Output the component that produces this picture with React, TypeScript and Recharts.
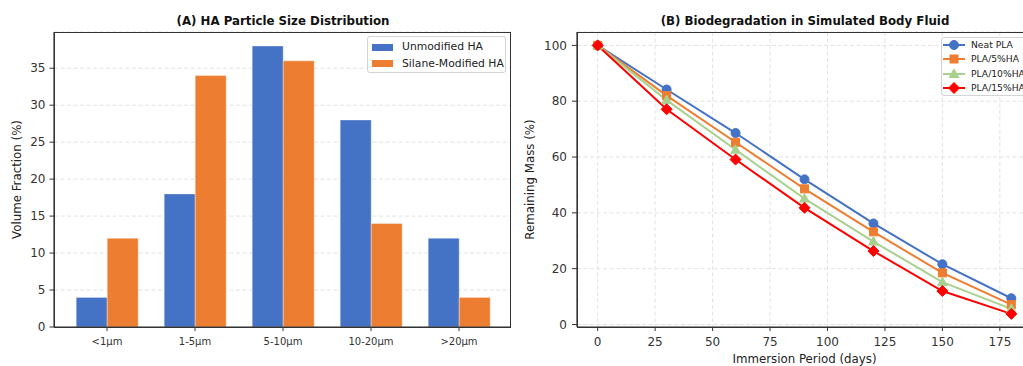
import React from 'react';
import { BarChart, Bar, XAxis, YAxis, CartesianGrid, Legend, LineChart, Line } from 'recharts';

// ---------- Data ----------
const sizeCategories = ['<1μm', '1-5μm', '5-10μm', '10-20μm', '>20μm'];
const unmodifiedHA = [4, 18, 38, 28, 12];
const silaneModifiedHA = [12, 34, 36, 14, 4];
const volumeTicks = [0, 5, 10, 15, 20, 25, 30, 35];

const immersionDays = [0, 30, 60, 90, 120, 150, 180];
const neatPLA = [100, 84.2, 68.6, 52.0, 36.2, 21.6, 9.4];
const pla5HA = [100, 82.0, 65.3, 48.6, 33.2, 18.5, 7.1];
const pla10HA = [100, 80.4, 62.6, 45.1, 29.7, 15.2, 5.6];
const pla15HA = [100, 77.1, 59.1, 41.8, 26.3, 12.0, 3.8];
const dayTicks = [0, 25, 50, 75, 100, 125, 150, 175];
const massTicks = [0, 20, 40, 60, 80, 100];

const FONT = '"DejaVu Sans", sans-serif';
const AXIS = '#333';
const GRID = '#e2e2e2';

const barData = sizeCategories.map((c, i) => ({
  cat: c,
  unmod: unmodifiedHA[i],
  silane: silaneModifiedHA[i],
}));

const lineData = immersionDays.map((d, i) => ({
  day: d,
  neat: neatPLA[i],
  ha5: pla5HA[i],
  ha10: pla10HA[i],
  ha15: pla15HA[i],
}));

const barSeries = [
  { key: 'unmod', name: 'Unmodified HA', color: '#4472C4' },
  { key: 'silane', name: 'Silane-Modified HA', color: '#ED7D31' },
];

const lineSeries = [
  { key: 'neat', name: 'Neat PLA', color: '#4472C4', shape: 'circle' },
  { key: 'ha5', name: 'PLA/5%HA', color: '#ED7D31', shape: 'square' },
  { key: 'ha10', name: 'PLA/10%HA', color: '#A9D18E', shape: 'triangle' },
  { key: 'ha15', name: 'PLA/15%HA', color: '#FF0000', shape: 'diamond' },
];

// ---------- Markers ----------
const Marker = ({ shape, color, x, y }: { shape: string; color: string; x: number; y: number }) => {
  if (shape === 'circle') return <circle cx={x} cy={y} r={4.5} fill={color} stroke={color} />;
  if (shape === 'square') return <rect x={x - 4} y={y - 4} width={8} height={8} fill={color} stroke={color} />;
  if (shape === 'triangle')
    return (
      <polygon
        points={`${x},${y - 5} ${x - 4.8},${y + 3.5} ${x + 4.8},${y + 3.5}`}
        fill={color}
        stroke={color}
      />
    );
  return (
    <polygon
      points={`${x},${y - 5.5} ${x + 5.5},${y} ${x},${y + 5.5} ${x - 5.5},${y}`}
      fill={color}
      stroke={color}
    />
  );
};

const makeDot = (shape: string, color: string) => (props: any) => {
  const { cx, cy, index } = props;
  if (cx == null || cy == null) return <g key={`${shape}-${index}`} />;
  return <Marker key={`${shape}-${index}`} shape={shape} color={color} x={cx} y={cy} />;
};

// ---------- Labels ----------
const verticalLabel = (text: string, xOffset: number) => (props: any) => {
  const vb = props.viewBox || {};
  const cx = (vb.x || 0) + xOffset;
  const cy = (vb.y || 0) + (vb.height || 0) / 2;
  return (
    <text
      x={cx}
      y={cy}
      transform={`rotate(-90 ${cx} ${cy})`}
      textAnchor="middle"
      dy="0.35em"
      fontSize={11.8}
      fontFamily={FONT}
      fill="#222"
    >
      {text}
    </text>
  );
};

const bottomLabel = (text: string, yOffset: number) => (props: any) => {
  const vb = props.viewBox || {};
  const cx = (vb.x || 0) + (vb.width || 0) / 2;
  const cy = (vb.y || 0) + yOffset;
  return (
    <text x={cx} y={cy} textAnchor="middle" dy="0.35em" fontSize={11.8} fontFamily={FONT} fill="#222">
      {text}
    </text>
  );
};

// ---------- Legends ----------
const BarLegend = () => (
  <div
    style={{
      width: 139,
      height: 37,
      border: '1px solid #d4d4d4',
      borderRadius: 3,
      background: 'rgba(255,255,255,0.85)',
      boxSizing: 'border-box',
      position: 'relative',
      fontFamily: FONT,
      fontSize: 10.8,
      color: '#222',
    }}
  >
    {barSeries.map((s, i) => (
      <div
        key={s.key}
        style={{
          position: 'absolute',
          left: 4,
          top: 3 + i * 16.5,
          height: 14,
          lineHeight: '14px',
          display: 'flex',
          alignItems: 'center',
          whiteSpace: 'nowrap',
        }}
      >
        <span style={{ display: 'inline-block', width: 21, height: 7, background: s.color, marginRight: 9 }} />
        <span>{s.name}</span>
      </div>
    ))}
  </div>
);

const LineLegend = () => (
  <div
    style={{
      width: 110,
      height: 59,
      border: '1px solid #d4d4d4',
      borderRadius: 3,
      background: 'rgba(255,255,255,0.85)',
      boxSizing: 'border-box',
      position: 'relative',
      fontFamily: FONT,
      fontSize: 9.2,
      color: '#222',
    }}
  >
    {lineSeries.map((s, i) => (
      <div
        key={s.key}
        style={{
          position: 'absolute',
          left: 1,
          top: 1 + i * 14.3,
          height: 12,
          lineHeight: '12px',
          display: 'flex',
          alignItems: 'center',
          whiteSpace: 'nowrap',
        }}
      >
        <svg width={22} height={12} style={{ marginRight: 6, overflow: 'visible' }}>
          <line x1={0} y1={6} x2={22} y2={6} stroke={s.color} strokeWidth={2} />
          <Marker shape={s.shape} color={s.color} x={11} y={6} />
        </svg>
        <span>{s.name}</span>
      </div>
    ))}
  </div>
);

const tickStyleY = { fontSize: 12, fill: '#333', fontFamily: FONT };

export default function App() {
  return (
    <div
      style={{
        position: 'absolute',
        left: 0,
        top: 0,
        width: 1023,
        height: 366,
        overflow: 'hidden',
        background: '#fff',
        fontFamily: FONT,
      }}
    >
      {/* Titles */}
      <div
        style={{
          position: 'absolute',
          left: 0,
          width: 566,
          top: 13.5,
          textAlign: 'center',
          fontWeight: 'bold',
          fontSize: 11.8,
          lineHeight: '14px',
          color: '#111',
        }}
      >
        (A) HA Particle Size Distribution
      </div>
      <div
        style={{
          position: 'absolute',
          left: 520,
          width: 570,
          top: 13.5,
          textAlign: 'center',
          fontWeight: 'bold',
          fontSize: 11.8,
          lineHeight: '14px',
          color: '#111',
        }}
      >
        (B) Biodegradation in Simulated Body Fluid
      </div>

      {/* Left chart */}
      <div style={{ position: 'absolute', left: 0, top: 0 }}>
        <BarChart
          width={520}
          height={366}
          data={barData}
          margin={{ top: 32, right: 9, bottom: 0, left: 0 }}
          barCategoryGap="15%"
          barGap={0}
        >
          <CartesianGrid
            vertical={false}
            stroke={GRID}
            strokeDasharray="4 2.5"
          />
          <XAxis
            dataKey="cat"
            type="category"
            height={39}
            padding={{ left: 9, right: 8 }}
            tickSize={4}
            tickMargin={7}
            stroke={AXIS}
            tick={{ fontSize: 10, fill: '#333', fontFamily: FONT }}
            tickLine={{ stroke: AXIS }}
            axisLine={{ stroke: AXIS, strokeWidth: 1.2 }}
            interval={0}
          />
          <YAxis
            type="number"
            domain={[0, 39.9]}
            ticks={volumeTicks}
            width={54}
            tickSize={4.5}
            tickMargin={4}
            stroke={AXIS}
            tick={tickStyleY}
            axisLine={{ stroke: AXIS, strokeWidth: 1.2 }}
            allowDataOverflow
            label={{ content: verticalLabel('Volume Fraction (%)', 17) }}
          />
          <Legend
            layout="horizontal"
            verticalAlign="middle"
            align="center"
            wrapperStyle={{ position: 'absolute', left: 367, top: 36, width: 139, height: 37 }}
            content={() => <BarLegend />}
          />
          {barSeries.map((s) => (
            <Bar
              key={s.key}
              dataKey={s.key}
              name={s.name}
              fill={s.color}
              stroke="#ffffff"
              strokeWidth={0.6}
              strokeOpacity={0.6}
              isAnimationActive={false}
            />
          ))}
        </BarChart>
      </div>
      {/* Left frame */}
      <div
        style={{
          position: 'absolute',
          left: 54,
          top: 32,
          width: 457,
          height: 295.5,
          border: '1.2px solid #333',
          boxSizing: 'border-box',
          pointerEvents: 'none',
        }}
      />

      {/* Right chart */}
      <div style={{ position: 'absolute', left: 520, top: 0 }}>
        <LineChart
          width={530}
          height={366}
          data={lineData}
          margin={{ top: 32, right: 18, bottom: 0, left: 0 }}
        >
          <CartesianGrid stroke={GRID} strokeDasharray="4 2.5" />
          <XAxis
            dataKey="day"
            type="number"
            domain={[-9, 189]}
            ticks={dayTicks}
            allowDataOverflow
            height={39}
            tickSize={4}
            tickMargin={6.5}
            stroke={AXIS}
            tick={{ fontSize: 12, fill: '#333', fontFamily: FONT }}
            axisLine={{ stroke: AXIS, strokeWidth: 1.2 }}
            label={{ content: bottomLabel('Immersion Period (days)', 32) }}
          />
          <YAxis
            type="number"
            domain={[-0.9, 104.8]}
            ticks={massTicks}
            allowDataOverflow
            width={57}
            tickSize={5}
            tickMargin={5}
            stroke={AXIS}
            tick={tickStyleY}
            axisLine={{ stroke: AXIS, strokeWidth: 1.2 }}
            label={{ content: verticalLabel('Remaining Mass (%)', 10) }}
          />
          <Legend
            layout="horizontal"
            verticalAlign="middle"
            align="center"
            wrapperStyle={{ position: 'absolute', left: 421, top: 37, width: 110, height: 59 }}
            content={() => <LineLegend />}
          />
          {lineSeries.map((s) => (
            <Line
              key={s.key}
              type="linear"
              dataKey={s.key}
              name={s.name}
              stroke={s.color}
              strokeWidth={2}
              dot={makeDot(s.shape, s.color)}
              activeDot={false}
              isAnimationActive={false}
            />
          ))}
        </LineChart>
      </div>
      {/* Right frame */}
      <div
        style={{
          position: 'absolute',
          left: 577,
          top: 32,
          width: 455,
          height: 295.5,
          border: '1.2px solid #333',
          boxSizing: 'border-box',
          pointerEvents: 'none',
        }}
      />
    </div>
  );
}
